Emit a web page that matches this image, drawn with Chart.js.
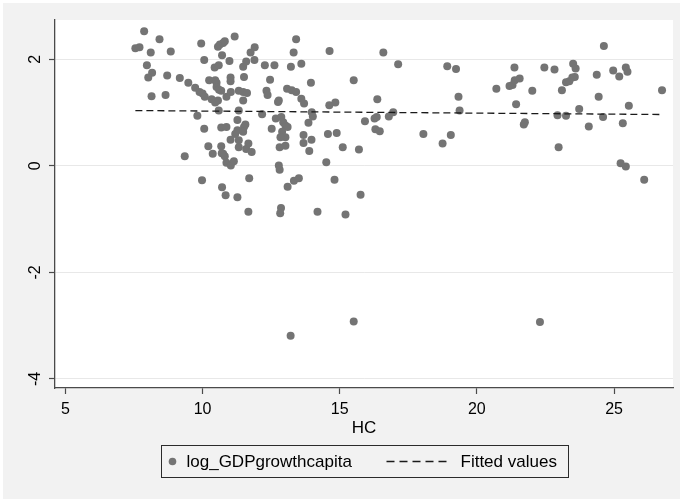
<!DOCTYPE html>
<html>
<head>
<meta charset="utf-8">
<script src="https://cdn.jsdelivr.net/npm/chart.js@4.4.1/dist/chart.umd.min.js"></script>
<style>
    html, body { margin: 0; padding: 0; background: #ffffff; }
    #wrap { position: absolute; left: 3px; top: 3px; width: 677px; height: 496px; background: #f2f2f2; }
</style>
</head>
<body>
<div id="wrap"><canvas id="hcChart" width="677" height="496"></canvas></div>
<script>
// HC (x) and log_GDPgrowthcapita (y)
const hc = [
    7.55, 7.70, 7.87, 8.43, 8.11, 8.84, 7.97, 8.16, 8.02, 8.71,
    9.17, 8.14, 8.65, 9.48, 9.73, 9.35, 9.81, 9.95, 10.06, 9.98,
    10.06, 9.89, 10.00, 10.08, 10.24, 10.21, 10.37, 10.33, 10.46, 10.51,
    10.56, 10.63, 10.75, 10.81, 10.71, 10.44, 10.59, 10.51, 10.60, 10.68,
    10.56, 10.59, 10.68, 10.87, 10.68, 10.75, 10.81, 10.87, 11.03, 11.14,
    10.71, 10.84, 11.27, 10.98, 11.02, 11.02, 10.87, 11.03, 11.17, 11.32,
    11.48, 11.48, 11.62, 11.32, 11.27, 11.27, 11.19, 11.02, 11.32, 11.32,
    11.51, 11.56, 11.48, 11.67, 11.59, 11.79, 11.70, 11.67, 11.48, 11.59,
    11.51, 11.75, 11.90, 11.89, 12.27, 12.46, 12.62, 12.33, 12.37, 12.17,
    12.52, 12.75, 12.78, 12.67, 12.87, 12.94, 13.02, 13.10, 12.90, 13.02,
    12.84, 12.81, 13.02, 12.78, 12.81, 12.86, 12.83, 13.10, 13.33, 13.51,
    13.21, 13.08, 13.25, 13.41, 13.22, 13.32, 13.41, 13.60, 13.60, 13.70,
    13.95, 13.98, 14.02, 13.86, 13.68, 13.68, 13.97, 13.89, 14.19, 14.63,
    14.62, 14.84, 14.57, 14.89, 14.51, 14.81, 15.11, 15.21, 15.51, 15.51,
    15.70, 15.76, 15.92, 16.27, 16.35, 16.37, 16.30, 16.46, 16.59, 16.79,
    16.95, 17.13, 18.05, 18.75, 19.05, 18.92, 19.24, 19.33, 19.37, 20.71,
    21.19, 21.30, 21.38, 21.37, 21.43, 21.56, 21.71, 21.75, 22.02, 22.30,
    22.46, 22.83, 22.94, 22.98, 23.10, 23.25, 23.25, 23.37, 23.48, 23.57,
    23.51, 23.60, 23.73, 24.08, 24.37, 24.44, 24.60, 24.63, 24.97, 25.19,
    25.43, 25.49, 25.32, 25.54, 25.24, 25.43, 26.10, 26.75,
    10.46, 10.70
];
const growth = [
    2.21, 2.23, 2.53, 2.38, 2.13, 2.15, 1.89, 1.75, 1.66, 1.70,
    1.65, 1.31, 1.33, 1.56, 1.47, 0.18, 0.94, 2.30, 1.99, -0.27,
    0.70, 1.39, 1.36, 1.30, 1.61, 0.37, 0.23, 1.25, 1.61, 1.56,
    2.24, 2.28, 2.31, 2.34, 2.08, 1.85, 1.89, 1.48, 1.43, 1.41,
    1.23, 1.04, 0.72, 0.73, 0.37, 0.23, 0.18, 0.06, 0.01, 0.09,
    -0.40, -0.55, -0.59, 1.97, 1.66, 1.59, 1.30, 1.39, 2.43, 1.41,
    1.39, 1.23, 1.37, 1.04, 0.86, 0.67, 0.60, 0.49, 0.48, 0.35,
    0.73, 0.78, 0.64, 0.42, 0.32, 0.26, -0.23, -0.86, 1.86, 1.96,
    1.67, 2.13, 2.23, 1.99, 1.89, 1.62, 1.89, 1.41, 1.33, 0.97,
    0.70, 1.20, 1.23, 0.89, 0.92, 0.82, 0.76, 0.73, 0.64, 0.54,
    0.54, 0.35, 0.38, 0.01, -0.07, -0.79, -0.89, -0.39, -0.28, -0.23,
    -3.19, 1.45, 1.42, 1.39, 1.86, 2.13, 2.38, 1.92, 1.26, 1.17,
    1.56, 1.01, 0.93, 0.81, 0.58, 0.43, 0.49, 0.28, -0.86, 2.16,
    1.14, 1.19, 0.60, 0.62, 0.07, -0.26, 0.35, -0.91, -2.92, 1.61,
    0.31, -0.54, 0.84, 0.89, 0.92, 1.25, 0.69, 0.65, 2.13, 0.93,
    1.01, 1.91, 0.60, 0.42, 0.58, 1.87, 1.82, 1.30, 1.04, 1.45,
    1.50, 1.52, 1.61, 1.85, 1.16, 1.64, 0.78, 0.82, 1.41, -2.93,
    1.85, 1.81, 0.95, 0.35, 1.42, 0.94, 1.57, 1.59, 1.66, 1.67,
    1.92, 1.83, 1.07, 0.74, 1.71, 1.30, 0.92, 2.25, 1.79, 1.68,
    1.85, 1.77, 0.80, 1.13, 0.05, -0.01, -0.26, 1.42,
    1.19, 0.24
];
// fitted line end points
const fitHc = [7.55, 26.75];
const fitValues = [1.04, 0.965];

const xTicks = [5, 10, 15, 20, 25];
const yTicks = [-4, -2, 0, 2];
const seriesNames = ['log_GDPgrowthcapita', 'Fitted values'];
const xTitle = 'HC';

const FONT = "'Liberation Sans', Arial, sans-serif";
const MARKER = '#747474';
const AXIS = '#4a4a4a';

const plotBackground = {
    id: 'plotBackground',
    beforeDraw(chart) {
        const {ctx, chartArea: a} = chart;
        ctx.save();
        ctx.fillStyle = '#ffffff';
        ctx.fillRect(a.left, a.top, a.right - a.left, a.bottom - a.top);
        ctx.restore();
    }
};

// Stata style boxed legend under the axis title
const boxLegend = {
    id: 'boxLegend',
    afterDraw(chart) {
        const {ctx, chartArea: a} = chart;
        const w = 407, h = 32;
        const left = Math.round((a.left + a.right) / 2 - w / 2) + 0.5;
        const top = 442.5;
        const cy = top + h / 2;
        ctx.save();
        ctx.strokeStyle = '#2b2b2b';
        ctx.lineWidth = 1;
        ctx.strokeRect(left, top, w, h);

        ctx.fillStyle = MARKER;
        ctx.beginPath();
        ctx.arc(left + 11, cy, 3.8, 0, Math.PI * 2);
        ctx.fill();

        ctx.font = '17px ' + FONT;
        ctx.fillStyle = '#000';
        ctx.textBaseline = 'middle';
        ctx.fillText(seriesNames[0], left + 25, cy + 1);

        ctx.strokeStyle = '#1a1a1a';
        ctx.lineWidth = 1.3;
        ctx.setLineDash([8, 5]);
        ctx.beginPath();
        ctx.moveTo(left + 225, cy);
        ctx.lineTo(left + 290, cy);
        ctx.stroke();
        ctx.setLineDash([]);

        ctx.fillText(seriesNames[1], left + 299, cy + 1);
        ctx.restore();
    }
};

const ctx = document.getElementById('hcChart').getContext('2d');
new Chart(ctx, {
    data: {
        datasets: [{
            type: 'line',
            label: seriesNames[1],
            data: fitHc.map((x, i) => ({x: x, y: fitValues[i]})),
            borderColor: '#1a1a1a',
            borderWidth: 1.3,
            borderDash: [7, 4],
            pointRadius: 0,
            fill: false,
            order: 0
        }, {
            type: 'scatter',
            label: seriesNames[0],
            data: hc.map((x, i) => ({x: x, y: growth[i]})),
            backgroundColor: MARKER,
            borderWidth: 0,
            pointRadius: 4,
            order: 1
        }]
    },
    options: {
        responsive: false,
        animation: false,
        devicePixelRatio: 1,
        layout: { padding: { top: 17, right: 7, left: 0, bottom: 0 } },
        scales: {
            x: {
                type: 'linear',
                position: 'bottom',
                min: 4.62,
                max: 27.15,
                afterBuildTicks: s => { s.ticks = xTicks.map(v => ({value: v})); },
                afterFit: s => { s.height = 111; },
                grid: { drawOnChartArea: false, tickLength: 6, tickColor: AXIS, tickWidth: 1.2 },
                border: { color: AXIS, width: 1.3 },
                ticks: { color: '#000', padding: 6, font: { size: 16, family: FONT } },
                title: {
                    display: true,
                    text: xTitle,
                    color: '#000',
                    font: { size: 17, family: FONT },
                    padding: { top: 0, bottom: 60 }
                }
            },
            y: {
                type: 'linear',
                min: -4.17,
                max: 2.74,
                afterBuildTicks: s => { s.ticks = yTicks.map(v => ({value: v})); },
                afterFit: s => { s.width = 52; },
                grid: { color: '#e8e8e8', lineWidth: 1, tickLength: 6, tickColor: AXIS, tickWidth: 1.2 },
                border: { color: AXIS, width: 1.3 },
                ticks: {
                    color: '#000',
                    padding: 6,
                    minRotation: 90,
                    maxRotation: 90,
                    crossAlign: 'center',
                    font: { size: 16, family: FONT }
                }
            }
        },
        plugins: {
            legend: { display: false },
            tooltip: { enabled: false }
        }
    },
    plugins: [plotBackground, boxLegend]
});
</script>
</body>
</html>
